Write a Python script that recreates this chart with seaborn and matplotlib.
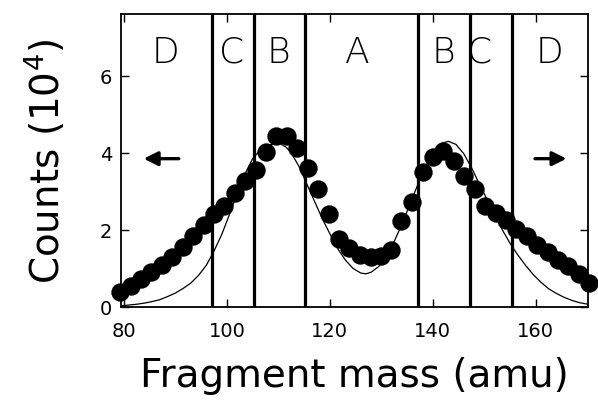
import matplotlib
matplotlib.use("Agg")
import matplotlib.pyplot as plt
import seaborn as sns
import pandas as pd

# measured fragment-mass distribution (dots)
mass = [79.3, 81.3, 83.3, 85.3, 87.4, 89.4, 91.4, 93.4, 95.5, 97.5, 99.5, 101.5,
        103.6, 105.6, 107.6, 109.6, 111.7, 113.7, 115.7, 117.7, 119.8, 121.8, 123.8,
        125.8, 127.9, 129.9, 131.9, 133.9, 136.0, 138.0, 140.0, 142.0, 144.1, 146.1,
        148.1, 150.1, 152.2, 154.2, 156.2, 158.2, 160.3, 162.3, 164.3, 166.3, 168.4, 170.4]
counts = [0.38, 0.55, 0.72, 0.90, 1.09, 1.30, 1.55, 1.84, 2.12, 2.42, 2.62, 2.95,
          3.28, 3.55, 4.02, 4.45, 4.45, 4.12, 3.60, 3.06, 2.42, 1.77, 1.52,
          1.34, 1.29, 1.32, 1.48, 2.22, 2.72, 3.50, 3.90, 4.06, 3.80, 3.41,
          3.05, 2.62, 2.44, 2.26, 2.03, 1.84, 1.62, 1.42, 1.22, 1.05, 0.85, 0.62]

# calculated curve (thin line)
fit_mass = [79.5, 81, 82.5, 84, 85.5, 87, 88.5, 90, 91.5, 93, 94.5, 96, 97.5, 99, 100.5,
            102, 103.5, 105, 106.5, 108, 109.5, 110.5, 111.5, 112.5, 114, 115.5, 117,
            118.5, 120, 121.5, 123, 124.5, 126, 127, 128, 129.5, 131, 132.5, 134, 135.5,
            137, 138.5, 140, 141.5, 143, 144.5, 146, 147.5, 149, 150.5, 152, 153.5, 155,
            156.5, 158, 159.5, 161, 162.5, 164, 165.5, 167, 168.5, 170.1]
fit_counts = [0.03, 0.05, 0.07, 0.10, 0.14, 0.19, 0.27, 0.36, 0.48, 0.62, 0.82, 1.08, 1.45,
              1.88, 2.40, 2.95, 3.45, 3.85, 4.08, 4.20, 4.24, 4.23, 4.15, 4.00, 3.65, 3.20,
              2.75, 2.30, 1.90, 1.52, 1.22, 1.00, 0.88, 0.86, 0.90, 1.05, 1.33, 1.70, 2.15,
              2.65, 3.15, 3.62, 4.00, 4.24, 4.30, 4.22, 3.98, 3.62, 3.20, 2.80, 2.38, 2.00,
              1.65, 1.35, 1.08, 0.84, 0.64, 0.47, 0.35, 0.25, 0.17, 0.11, 0.07]

# region boundaries and labels
boundaries = [97.1, 105.2, 115.1, 137.1, 147.2, 155.3]
region_labels = ["D", "C", "B", "A", "B", "C", "D"]
region_x = [88.0, 100.9, 110.0, 125.3, 142.0, 149.1, 162.7]

xticks = [80, 100, 120, 140, 160]
yticks = [0, 2, 4, 6]

sns.set_theme(style="ticks")
plt.rcParams["font.family"] = ["DejaVu Sans"]
plt.rcParams["text.color"] = "black"
plt.rcParams["axes.labelcolor"] = "black"
plt.rcParams["xtick.color"] = "black"
plt.rcParams["ytick.color"] = "black"

fig = plt.figure(figsize=(5.98, 4.02), dpi=100)
ax = fig.add_axes([0.202, 0.234, 0.781, 0.729])

df = pd.DataFrame({"mass": mass, "counts": counts})
fit = pd.DataFrame({"mass": fit_mass, "counts": fit_counts})

for b in boundaries:
    ax.axvline(b, color="black", lw=2.3, zorder=1)

sns.lineplot(data=fit, x="mass", y="counts", ax=ax, color="black", lw=0.9,
             sort=False, estimator=None, zorder=2)
sns.scatterplot(data=df, x="mass", y="counts", ax=ax, color="black", s=175,
                edgecolor="black", linewidth=0, zorder=3, clip_on=False)

for lab, xx in zip(region_labels, region_x):
    ax.text(xx, 6.62, lab, ha="center", va="center", fontsize=26,
            fontweight="light", color="black")

ax.annotate("", xy=(83.3, 3.85), xytext=(91.2, 3.85),
            arrowprops=dict(arrowstyle="-|>,head_length=0.7,head_width=0.35",
                            color="black", lw=2.4))
ax.annotate("", xy=(166.5, 3.85), xytext=(159.3, 3.85),
            arrowprops=dict(arrowstyle="-|>,head_length=0.7,head_width=0.35",
                            color="black", lw=2.4))

ax.set_xlim(79.4, 170.1)
ax.set_ylim(0, 7.61)
ax.set_xticks(xticks)
ax.set_yticks(yticks)
ax.tick_params(direction="in", length=6, width=1.0, labelsize=14,
               top=True, right=True, labeltop=False, labelright=False, pad=6)
ax.tick_params(axis="x", pad=10)
for sp in ax.spines.values():
    sp.set_linewidth(1.3)
    sp.set_color("black")

ax.set_xlabel("Fragment mass (amu)", fontsize=28, labelpad=12)
ax.set_ylabel("Counts (10$^4$)", fontsize=28, labelpad=24)

fig.savefig("out.png", dpi=100)
